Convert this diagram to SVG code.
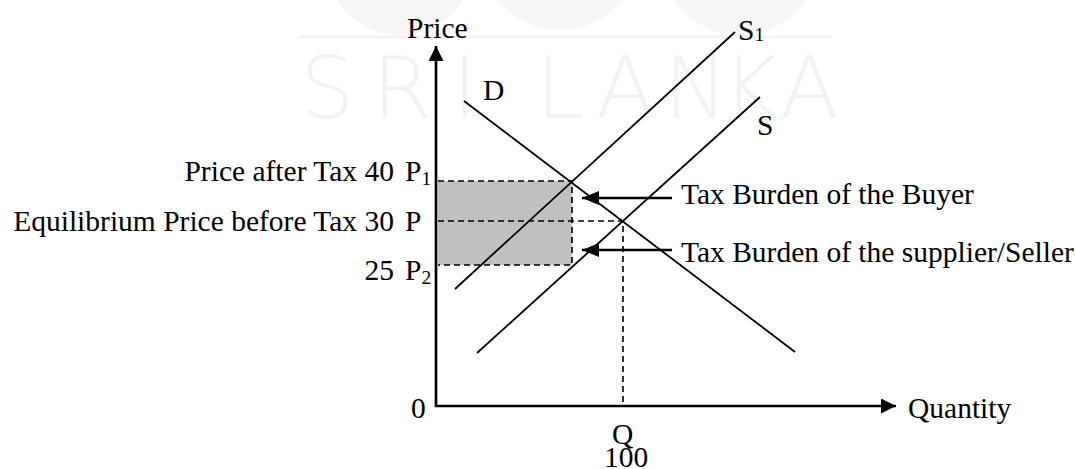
<svg xmlns="http://www.w3.org/2000/svg" width="1076" height="469" viewBox="0 0 1076 469">
  <style>
    .t { font-family: "Liberation Serif", "Times New Roman", serif; font-size: 29.5px; fill: #000; }
    .sub { font-size: 19.5px; }
    .wm { font-family: "DejaVu Sans", "Liberation Sans", sans-serif; font-size: 86px; font-weight: 200; fill: #f2f2f2; }
    .logo { fill: #f6f6f6; }
    .axis { stroke: #000; stroke-width: 2.7; fill: none; }
    .curve { stroke: #000; stroke-width: 1.8; fill: none; }
    .dash { stroke: #000; stroke-width: 1.6; stroke-dasharray: 6 4; fill: none; }
    .ptr { stroke: #000; stroke-width: 2.7; fill: none; }
  </style>
  <defs>
    <marker id="axhead" markerUnits="userSpaceOnUse" markerWidth="16" markerHeight="16" refX="15" refY="7.5" orient="auto">
      <polygon points="0,0 15,7.5 0,15" fill="#000"/>
    </marker>
    <marker id="ptrhead" markerUnits="userSpaceOnUse" markerWidth="18" markerHeight="16" refX="17" refY="7" orient="auto">
      <polygon points="0,0 17,7 0,14" fill="#000"/>
    </marker>
    <clipPath id="logoclip"><rect x="290" y="0" width="560" height="35"/></clipPath>
  </defs>
  <rect width="1076" height="469" fill="#fff"/>

  <!-- faint watermark -->
  <g id="watermark">
    <g clip-path="url(#logoclip)">
      <circle class="logo" cx="400" cy="-40" r="75"/>
      <circle class="logo" cx="560" cy="-50" r="80"/>
      <circle class="logo" cx="740" cy="-45" r="80"/>
    </g>
    <line x1="300" y1="37" x2="832" y2="37" stroke="#f3f3f3" stroke-width="3"/>
    <g class="wm">
      <text x="300" y="118">S</text>
      <text x="372" y="118">R</text>
      <text x="452" y="118">I</text>
      <text x="536" y="118">L</text>
      <text x="596" y="118">A</text>
      <text x="664" y="118">N</text>
      <text x="722" y="118">K</text>
      <text x="780" y="118">A</text>
    </g>
  </g>

  <!-- shaded tax area -->
  <g id="tax-area">
    <rect x="438" y="181" width="134" height="84" fill="#c0c0c0"/>
  </g>

  <g id="connectors">
    <!-- dashed guides -->
    <path class="dash" d="M438,181 H572 V265 H438"/>
    <path class="dash" d="M438,221 H623 V406"/>
    <!-- curves -->
    <line id="D" class="curve" x1="464" y1="101" x2="795" y2="352"/>
    <line id="S1" class="curve" x1="455" y1="289" x2="735" y2="32"/>
    <line id="S" class="curve" x1="477" y1="353" x2="760" y2="97"/>
    <!-- axes -->
    <line class="axis" x1="436" y1="407" x2="436" y2="46" marker-end="url(#axhead)"/>
    <line class="axis" x1="435" y1="406" x2="896" y2="406" marker-end="url(#axhead)"/>
    <!-- pointers -->
    <line class="ptr" x1="672" y1="198" x2="582" y2="198" marker-end="url(#ptrhead)"/>
    <line class="ptr" x1="672" y1="250" x2="582" y2="250" marker-end="url(#ptrhead)"/>
  </g>

  <g id="labels">
    <text class="t" x="407" y="38">Price</text>
    <text class="t" x="738" y="40">S<tspan class="sub" dy="1">1</tspan></text>
    <text class="t" x="483" y="100">D</text>
    <text class="t" x="757" y="135">S</text>
    <text class="t" x="394" y="181" text-anchor="end">Price after Tax 40</text>
    <text class="t" x="405" y="181">P<tspan class="sub" dy="4">1</tspan></text>
    <text class="t" x="394" y="231" text-anchor="end">Equilibrium Price before Tax 30</text>
    <text class="t" x="405" y="231">P</text>
    <text class="t" x="394" y="280" text-anchor="end">25</text>
    <text class="t" x="405" y="280">P<tspan class="sub" dy="4">2</tspan></text>
    <text class="t" x="681" y="204">Tax Burden of the Buyer</text>
    <text class="t" x="681" y="262">Tax Burden of the supplier/Seller</text>
    <text class="t" x="411" y="418">0</text>
    <text class="t" x="612" y="444">Q</text>
    <text class="t" x="604" y="467">100</text>
    <text class="t" x="908" y="418">Quantity</text>
  </g>
</svg>
